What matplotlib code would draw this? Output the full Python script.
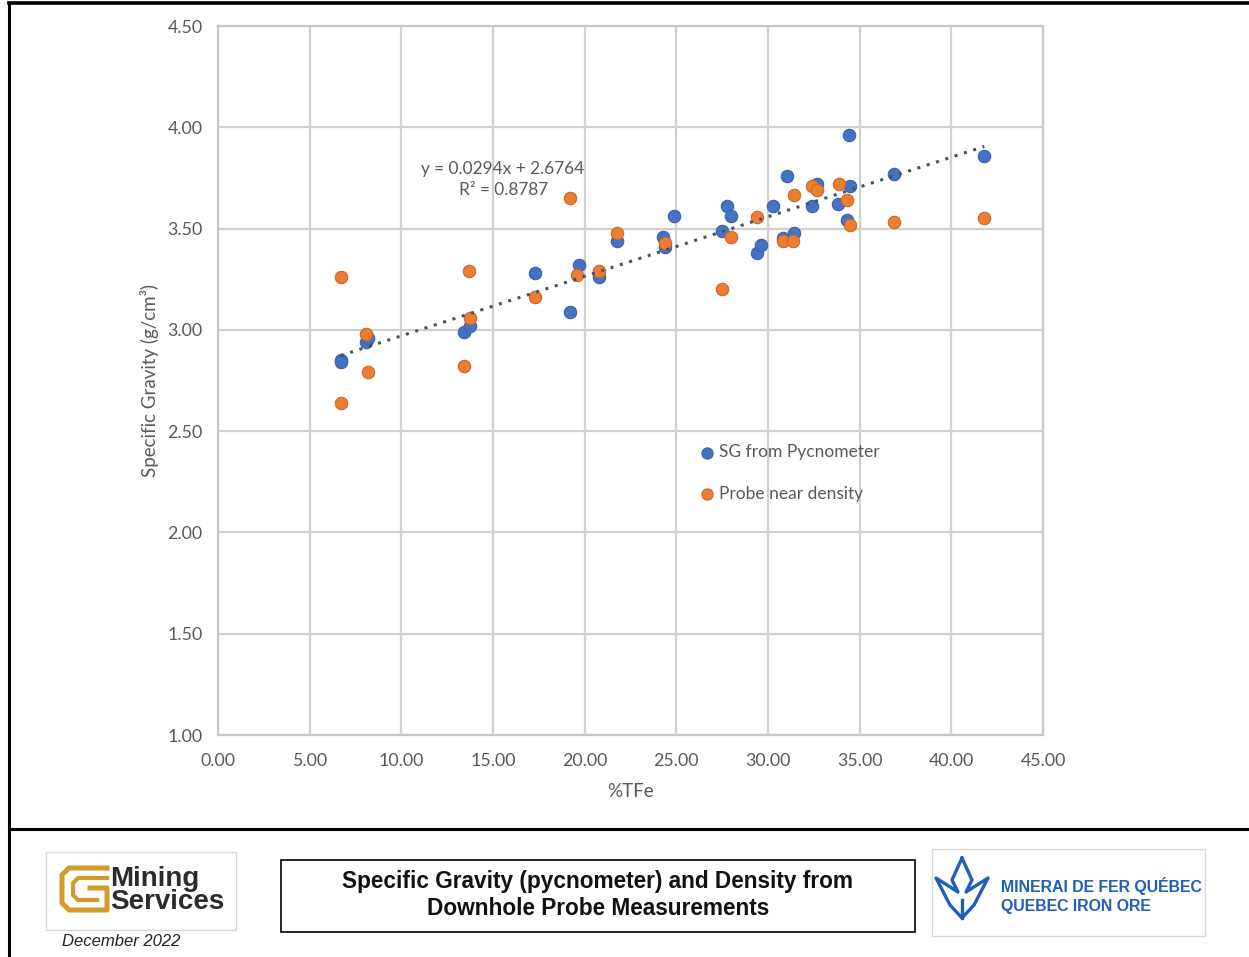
import matplotlib
matplotlib.use("Agg")
import matplotlib.pyplot as plt
from matplotlib.patches import Rectangle
from matplotlib.lines import Line2D
import numpy as np

# ---- data ----
sg_x = [6.7, 6.7, 8.1, 8.2, 13.4, 13.75, 17.3, 19.2, 19.7, 20.8, 21.75, 24.3, 24.4, 24.9,
        27.5, 27.75, 28.0, 29.4, 29.6, 30.3, 30.8, 31.05, 31.4, 32.4, 32.65, 33.8, 34.3,
        34.4, 34.5, 36.9, 41.8]
sg_y = [2.85, 2.84, 2.94, 2.96, 2.99, 3.02, 3.28, 3.09, 3.32, 3.26, 3.44, 3.46, 3.41, 3.56,
        3.49, 3.61, 3.56, 3.38, 3.42, 3.61, 3.455, 3.76, 3.48, 3.61, 3.72, 3.62, 3.54,
        3.96, 3.71, 3.77, 3.86]
pr_x = [6.7, 6.7, 8.1, 8.2, 13.4, 13.7, 13.75, 17.3, 19.2, 19.6, 20.8, 21.75, 24.4, 27.5,
        28.0, 29.4, 30.8, 31.35, 31.4, 32.4, 32.65, 33.85, 34.3, 34.5, 36.9, 41.8]
pr_y = [3.26, 2.64, 2.98, 2.79, 2.82, 3.29, 3.06, 3.16, 3.65, 3.27, 3.29, 3.48, 3.43, 3.20,
        3.46, 3.555, 3.44, 3.44, 3.665, 3.71, 3.69, 3.72, 3.64, 3.52, 3.53, 3.55]
trend_slope = 0.0294
trend_intercept = 2.6764
trend_r2 = 0.8787
x_ticks = [0, 5, 10, 15, 20, 25, 30, 35, 40, 45]
y_ticks = [1.0, 1.5, 2.0, 2.5, 3.0, 3.5, 4.0, 4.5]

W, H = 1249, 957
fig = plt.figure(figsize=(W / 100, H / 100), dpi=100)
plt.rcParams['font.family'] = ['Lato', 'DejaVu Sans']

def fx(px):
    return px / W

def fy(py):
    return 1 - py / H

ax = fig.add_axes([fx(218), fy(735), fx(1043) - fx(218), fy(26) - fy(735)])
ax.set_xlim(0, 45)
ax.set_ylim(1.0, 4.5)
ax.set_xticks(x_ticks)
ax.set_yticks(y_ticks)
ax.set_xticklabels([f"{v:.2f}" for v in x_ticks])
ax.set_yticklabels([f"{v:.2f}" for v in y_ticks])
ax.grid(True, color="#D0D0D0", linewidth=1.6)
ax.set_axisbelow(True)
for s in ax.spines.values():
    s.set_color("#C8C8C8")
    s.set_linewidth(1.6)
ax.tick_params(length=0, labelsize=12.8, labelcolor="#595959")
ax.tick_params(axis="x", pad=13)
ax.tick_params(axis="y", pad=11)

ax.scatter(sg_x, sg_y, s=80, color="#4472C4", edgecolor="#3A62A8", linewidth=0.8,
           zorder=3, label="SG from Pycnometer")
ax.scatter(pr_x, pr_y, s=80, color="#ED7D31", edgecolor="#C8682A", linewidth=0.8,
           zorder=4, label="Probe near density")

tx = np.array([min(sg_x), max(sg_x)])
ax.plot(tx, trend_slope * tx + trend_intercept, linestyle=(0, (1, 2.2)), color="#44546A",
        linewidth=2.2, zorder=5)

ax.text(15.55, 3.742, f"y = {trend_slope}x + {trend_intercept}\nR² = {trend_r2}",
        ha="center", va="center", fontsize=12.4, color="#595959", linespacing=1.45)

ax.set_xlabel("%TFe", fontsize=13.5, color="#595959", labelpad=10)
ax.set_ylabel("Specific Gravity (g/cm³)", fontsize=13.5, color="#595959", labelpad=6)

leg = ax.legend(loc="upper left", bbox_to_anchor=(0.571, 0.420), frameon=False,
                fontsize=12.5, labelcolor="#595959", handletextpad=0.0, handlelength=1.3,
                labelspacing=1.46, markerscale=0.9, borderaxespad=0)

# ---- frame lines ----
fig.add_artist(Line2D([fx(9), fx(9)], [0, fy(3)], color="black", linewidth=2.2))
fig.add_artist(Line2D([fx(9), 1], [fy(3), fy(3)], color="black", linewidth=2.6))
fig.add_artist(Line2D([fx(9), 1], [fy(829), fy(829)], color="black", linewidth=2.2))

# ---- title box ----
fig.add_artist(Rectangle((fx(281), fy(932)), fx(915) - fx(281), fy(860) - fy(932),
                         fill=False, edgecolor="black", linewidth=1.2))
fig.text(fx(598), fy(895), "Specific Gravity (pycnometer) and Density from\nDownhole Probe Measurements",
         ha="center", va="center", fontsize=16.3, fontweight="bold", family="Liberation Sans",
         color="#111111", linespacing=1.2)

# ---- left logo ----
fig.add_artist(Rectangle((fx(46), fy(930)), fx(236) - fx(46), fy(852) - fy(930),
                         fill=False, edgecolor="#D8D8D8", linewidth=1.0))
gold = "#D39B2A"
g_outer_x = [107, 69, 62, 62, 69, 107, 107, 90]
g_outer_y = [868, 868, 875, 903, 910, 910, 888, 888]
g_inner_x = [107, 78, 73, 73, 78, 97]
g_inner_y = [878, 878, 883, 895, 900, 900]
fig.add_artist(Line2D([fx(v) for v in g_outer_x], [fy(v) for v in g_outer_y],
                      color=gold, linewidth=3.6, solid_joinstyle="round"))
fig.add_artist(Line2D([fx(v) for v in g_inner_x], [fy(v) for v in g_inner_y],
                      color=gold, linewidth=3.0, solid_joinstyle="round"))
fig.text(fx(110), fy(890.5), "Mining\nServices", ha="left", va="center", fontsize=20,
         fontweight="bold", color="#2B2B2B", family="Liberation Sans", linespacing=0.88)
fig.text(fx(62), fy(942), "December 2022", ha="left", va="center", fontsize=12,
         style="italic", color="#222222", family="Liberation Sans")

# ---- right logo ----
fig.add_artist(Rectangle((fx(932), fy(936)), fx(1205) - fx(932), fy(849) - fy(936),
                         fill=False, edgecolor="#D8D8D8", linewidth=1.0))
blue = "#1F5FB8"
lx = [962, 952, 958, 936, 950, 962, 974, 988, 966, 972, 962]
ly = [858, 880, 892, 878, 905, 918, 905, 878, 892, 880, 858]
fig.add_artist(Line2D([fx(v) for v in lx], [fy(v) for v in ly], color=blue, linewidth=2.4))
fig.add_artist(Line2D([fx(962), fx(962)], [fy(900), fy(918)], color=blue, linewidth=2.4))
fig.text(fx(1001), fy(895.5), "MINERAI DE FER QUÉBEC\nQUEBEC IRON ORE", ha="left", va="center",
         fontsize=11.4, fontweight="bold", color=blue, family="Liberation Sans",
         linespacing=1.4)

fig.savefig("out.png", dpi=100)
